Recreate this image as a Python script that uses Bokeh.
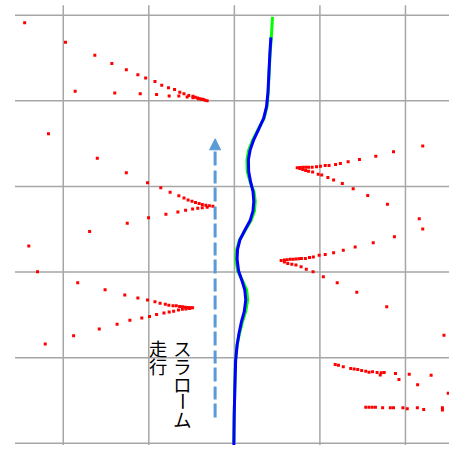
import numpy as np
from bokeh.plotting import figure
from bokeh.models import Range1d, Arrow, NormalHead
from bokeh.core.properties import value
from bokeh.embed import file_html
from bokeh.resources import INLINE

# ---- grid (1 unit per cell) ----
x_ticks = [-2, -1, 0, 1, 2]
y_ticks = [0, 1, 2, 3, 4, 5]

# ---- sensor detections (red points), grouped by cluster ----
wedge_a_x = [-2.451, -1.974, -1.631, -1.432, -1.263, -1.128, -1.037, -0.928, -0.849, -0.770, -0.699,
             -0.638, -0.589, -0.533, -0.484, -0.457, -0.431, -0.409, -0.386, -0.363, -0.341, -0.318,
             -1.861, -1.398, -1.100, -0.909, -0.762, -0.649, -0.552, -0.484, -0.420, -0.375]
wedge_a_y = [4.912, 4.683, 4.532, 4.435, 4.363, 4.303, 4.266, 4.224, 4.183, 4.153, 4.131,
             4.100, 4.081, 4.063, 4.052, 4.041, 4.033, 4.025, 4.018, 4.014, 4.007, 4.002,
             4.112, 4.092, 4.081, 4.074, 4.055, 4.055, 4.044, 4.036, 4.025, 4.018]

wedge_b_x = [-2.173, -1.602, -1.263, -1.015, -0.860, -0.751, -0.649, -0.589, -0.541, -0.495, -0.454,
             -0.412, -0.375, -0.333, -0.292, -0.251,
             -2.403, -1.692, -1.252, -1.003, -0.800, -0.660, -0.570, -0.488, -0.428, -0.375, -0.318]
wedge_b_y = [3.616, 3.330, 3.161, 3.044, 2.984, 2.931, 2.891, 2.864, 2.841, 2.826, 2.812,
             2.800, 2.789, 2.781, 2.773, 2.767,
             2.304, 2.473, 2.570, 2.635, 2.676, 2.702, 2.722, 2.736, 2.744, 2.751, 2.757]

wedge_c_x = [-2.301, -1.831, -1.511, -1.281, -1.128, -1.015, -0.928, -0.868, -0.807, -0.766, -0.717,
             -0.679, -0.640, -0.606, -0.572, -0.538, -0.510, -0.488,
             -2.211, -1.879, -1.579, -1.371, -1.221, -1.082, -0.992, -0.909, -0.823, -0.762, -0.710,
             -0.653, -0.608, -0.567, -0.527]
wedge_c_y = [2.003, 1.876, 1.793, 1.733, 1.696, 1.673, 1.654, 1.635, 1.623, 1.612, 1.605,
             1.605, 1.598, 1.594, 1.590, 1.586, 1.583, 1.583,
             1.161, 1.256, 1.335, 1.391, 1.436, 1.462, 1.481, 1.504, 1.522, 1.533, 1.541,
             1.556, 1.564, 1.569, 1.575]

wedge_d_x = [0.735, 0.765, 0.799, 0.833, 0.867, 0.909, 0.960, 1.006, 1.062, 1.107, 1.183, 1.239,
             1.330, 1.462, 1.653, 1.860, 2.202,
             0.765, 0.799, 0.833, 0.867, 0.915, 0.980, 1.021, 1.093, 1.160, 1.262, 1.389, 1.559,
             1.789, 2.161]
wedge_d_y = [3.218, 3.221, 3.223, 3.223, 3.224, 3.224, 3.229, 3.236, 3.244, 3.244, 3.255, 3.269,
             3.289, 3.315, 3.353, 3.405, 3.472,
             3.210, 3.198, 3.187, 3.178, 3.168, 3.142, 3.134, 3.105, 3.074, 3.033, 2.973, 2.894,
             2.793, 2.623]

wedge_e_x = [0.547, 0.585, 0.618, 0.652, 0.686, 0.720, 0.754, 0.784, 0.830, 0.878, 0.923, 0.991,
             1.062, 1.160, 1.273, 1.412, 1.623, 1.871, 2.202,
             0.585, 0.624, 0.672, 0.720, 0.780, 0.841, 0.920, 1.040, 1.202, 1.431, 1.781, 2.450]
wedge_e_y = [2.135, 2.141, 2.144, 2.148, 2.150, 2.152, 2.156, 2.158, 2.158, 2.169, 2.176, 2.195,
             2.206, 2.225, 2.255, 2.293, 2.342, 2.413, 2.503,
             2.116, 2.101, 2.090, 2.082, 2.063, 2.034, 2.003, 1.944, 1.876, 1.763, 1.594, 1.263]

wedge_f_x = [1.179, 1.217, 1.273, 1.360, 1.401, 1.442, 1.488, 1.536, 1.574, 1.615, 1.668, 1.705,
             1.717, 1.751, 1.883, 1.924, 2.044, 2.142, 2.300, 2.500,
             1.536, 1.574, 1.612, 1.649, 1.733, 1.823, 1.860, 1.970, 2.021, 2.139, 2.213, 2.432, 2.432]
wedge_f_y = [0.921, 0.910, 0.895, 0.873, 0.867, 0.861, 0.850, 0.842, 0.831, 0.834, 0.828, 0.797,
             0.823, 0.828, 0.816, 0.744, 0.805, 0.684, 0.794, 0.583,
             0.422, 0.422, 0.422, 0.422, 0.414, 0.414, 0.414, 0.414, 0.402, 0.414, 0.395, 0.414, 0.388]

# ---- trajectories ----
path_green_x = [0.446, 0.432, 0.418, 0.406, 0.396, 0.381, 0.348, 0.280, 0.212, 0.167, 0.147, 0.150,
                0.184, 0.229, 0.244, 0.235, 0.195, 0.128, 0.060, 0.026, 0.018, 0.037, 0.094, 0.144,
                0.156, 0.133, 0.094, 0.060, 0.032, 0.012, 0.006, -0.002, -0.006]
path_green_y = [4.980, 4.743, 4.551, 4.326, 4.100, 3.931, 3.796, 3.672, 3.537, 3.424, 3.311, 3.176,
                3.052, 2.939, 2.826, 2.714, 2.601, 2.488, 2.375, 2.263, 2.150, 2.015, 1.902, 1.789,
                1.676, 1.541, 1.417, 1.282, 1.147, 0.966, 0.662, 0.324, 0.008]
path_blue_x = [0.427, 0.415, 0.404, 0.393, 0.376, 0.342, 0.286, 0.223, 0.184, 0.164, 0.167, 0.190,
               0.218, 0.227, 0.218, 0.184, 0.122, 0.065, 0.037, 0.032, 0.049, 0.088, 0.122, 0.133,
               0.116, 0.082, 0.054, 0.032, 0.015, 0.006, -0.002, -0.006]
path_blue_y = [4.740, 4.551, 4.326, 4.100, 3.931, 3.796, 3.672, 3.537, 3.424, 3.311, 3.176, 3.052,
               2.939, 2.826, 2.714, 2.601, 2.488, 2.375, 2.263, 2.150, 2.015, 1.902, 1.789, 1.676,
               1.541, 1.417, 1.282, 1.147, 0.966, 0.662, 0.324, -0.026]

# ---- direction arrow and label ----
arrow_x = -0.225
arrow_y_start = 0.301
arrow_y_tip = 3.556
label_slalom = "スラローム"
label_run = "走行"
label_slalom_x = -0.608
label_run_x = -0.891
label_top_y = 1.109

# ---- layout ----
x_lo, x_hi = -2.7336, 2.5147
y_lo, y_hi = -0.0259, 5.1714
W, H = 449, 445
SX = W / (x_hi - x_lo)        # screen px per unit
SY = H / (y_hi - y_lo)
scale = W / 465.0

p = figure(width=W, height=H, output_backend="svg", toolbar_location=None,
           x_range=Range1d(x_lo, x_hi), y_range=Range1d(y_lo, y_hi),
           x_axis_type=None, y_axis_type=None, min_border=0,
           outline_line_color=None, background_fill_color="white", border_fill_color="white")

grid_color = "#a6a6a6"
n_x = len(x_ticks)
n_y = len(y_ticks)
p.segment(x0=x_ticks, y0=[-0.3] * n_x, x1=x_ticks, y1=[5.115] * n_x,
          line_color=grid_color, line_width=1.5)
p.segment(x0=[-2.564] * n_y, y0=y_ticks, x1=[3.0] * n_y, y1=y_ticks,
          line_color=grid_color, line_width=1.5)

# paths
p.line(path_green_x, path_green_y, line_color="#00ff00", line_width=3, line_join="round")
p.line(path_blue_x, path_blue_y, line_color="#0000ff", line_width=3, line_join="round")

# points
all_x = wedge_a_x + wedge_b_x + wedge_c_x + wedge_d_x + wedge_e_x + wedge_f_x
all_y = wedge_a_y + wedge_b_y + wedge_c_y + wedge_d_y + wedge_e_y + wedge_f_y
p.scatter(all_x, all_y, marker="square", size=3, fill_color="#ff0000", line_color=None)

# arrow
arrow_color = "#5b9bd5"
head_px = 11
head_base = arrow_y_tip - head_px / SY
p.segment(x0=[arrow_x], y0=[arrow_y_start], x1=[arrow_x], y1=[head_base],
          line_color=arrow_color, line_width=3, line_dash="14 4 13 5")
p.add_layout(Arrow(end=NormalHead(size=head_px, fill_color=arrow_color, line_color=arrow_color, line_width=1),
                   x_start=arrow_x, y_start=head_base, x_end=arrow_x, y_end=arrow_y_tip,
                   line_alpha=0))

# vertical text
step = 0.2063
def vertical_text(label, x):
    chars = list(label)
    ys = [label_top_y - i * step for i in range(len(chars))]
    angles = [np.pi / 2 if c == "ー" else 0.0 for c in chars]
    p.text(x=[x] * len(chars), y=ys, text=chars, angle=angles,
           text_font=value("Noto Sans CJK JP"), text_font_size="18.3px",
           text_align="center", text_baseline="middle", text_color="#000000")

vertical_text(label_slalom, label_slalom_x)
vertical_text(label_run, label_run_x)

open("out.html", "w").write(file_html(p, INLINE))
